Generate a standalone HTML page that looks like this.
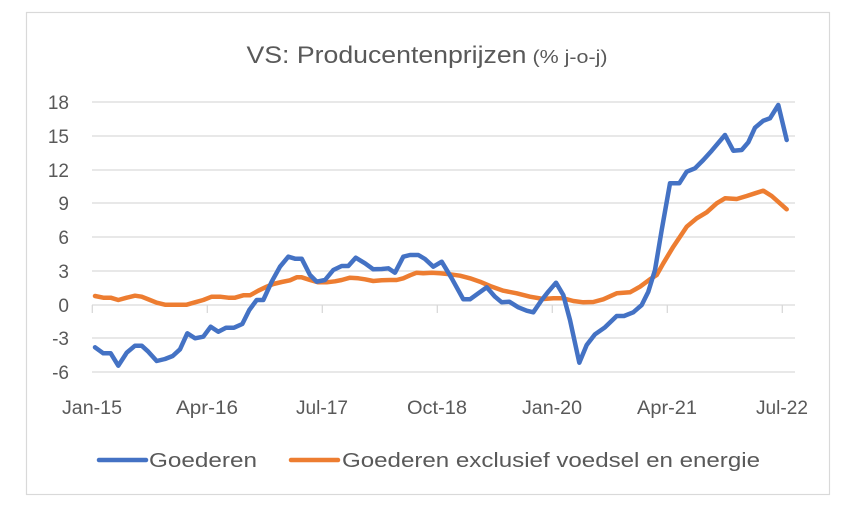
<!DOCTYPE html>
<html><head><meta charset="utf-8"><style>
html,body{margin:0;padding:0;background:#fff;}
svg{display:block;}
text{font-family:"Liberation Sans",sans-serif;fill:#595959;}
</style></head><body>
<svg width="858" height="512" viewBox="0 0 858 512">
<rect x="26.5" y="12.5" width="803" height="482" fill="#fff" stroke="#d9d9d9" stroke-width="1.2"/>
<text x="427" y="63" text-anchor="middle" font-size="24"><tspan textLength="280" lengthAdjust="spacingAndGlyphs">VS: Producentenprijzen</tspan><tspan font-size="18" dx="6" textLength="75" lengthAdjust="spacingAndGlyphs">(% j-o-j)</tspan></text>
<g stroke="#d9d9d9" stroke-width="1.3">
<line x1="92" x2="795" y1="102" y2="102"/>
<line x1="92" x2="795" y1="136" y2="136"/>
<line x1="92" x2="795" y1="170" y2="170"/>
<line x1="92" x2="795" y1="203" y2="203"/>
<line x1="92" x2="795" y1="237" y2="237"/>
<line x1="92" x2="795" y1="271" y2="271"/>
<line x1="92" x2="795" y1="338" y2="338"/>
<line x1="92" x2="795" y1="372" y2="372"/>
<line x1="92" x2="795" y1="305" y2="305"/>
<line x1="92.3" x2="92.3" y1="305" y2="313"/>
<line x1="207.3" x2="207.3" y1="305" y2="313"/>
<line x1="322.3" x2="322.3" y1="305" y2="313"/>
<line x1="437.3" x2="437.3" y1="305" y2="313"/>
<line x1="552.3" x2="552.3" y1="305" y2="313"/>
<line x1="667.3" x2="667.3" y1="305" y2="313"/>
<line x1="782.3" x2="782.3" y1="305" y2="313"/>
</g>
<g font-size="19" text-anchor="end">
<text x="69" y="109">18</text><text x="69" y="143">15</text><text x="69" y="177">12</text>
<text x="69" y="210">9</text><text x="69" y="244">6</text><text x="69" y="278">3</text>
<text x="69" y="312">0</text><text x="69" y="345">-3</text><text x="69" y="379">-6</text>
</g>
<g font-size="19" text-anchor="middle">
<text x="92" y="414" textLength="60" lengthAdjust="spacingAndGlyphs">Jan-15</text><text x="207" y="414" textLength="62" lengthAdjust="spacingAndGlyphs">Apr-16</text><text x="322" y="414" textLength="52" lengthAdjust="spacingAndGlyphs">Jul-17</text>
<text x="437" y="414" textLength="60" lengthAdjust="spacingAndGlyphs">Oct-18</text><text x="552" y="414" textLength="60" lengthAdjust="spacingAndGlyphs">Jan-20</text><text x="667" y="414" textLength="60" lengthAdjust="spacingAndGlyphs">Apr-21</text><text x="782" y="414" textLength="52" lengthAdjust="spacingAndGlyphs">Jul-22</text>
</g>
<polyline fill="none" stroke="#ED7D31" stroke-width="4.5" stroke-linejoin="round" stroke-linecap="round" points="95,296 103.3,297.7 110.7,297.7 118.3,300 126.7,297.7 135,295.7 141.7,296.7 150,300 156.7,302.7 165,304.7 173.3,304.7 180,304.7 186.7,304.7 195,302.3 203.3,300 211.7,296.7 220,296.7 228.3,297.7 235,297.7 243.3,295.3 250,295.3 258.3,290.7 266.7,286.7 273.3,284 281.7,282 290,280.3 296.7,277.3 301.7,277.3 310,280 318.3,282.3 326.7,282.3 335,281.3 341.7,280 350,277.7 358.3,278.3 365,279.3 373.3,281 381.7,280.3 390,280 396.7,280 403.3,278.3 410,275.3 416.7,272.7 423.3,273.3 431.7,272.7 440,273.3 450,274.3 460,275.7 470,278.3 480,281.7 490,286 503.3,290.7 516.7,293.3 530,296.7 543.3,299 553.3,298.3 563.3,298.3 573.3,301 583.3,302.3 593.3,302 603.3,299.3 616.7,293.3 630,292.3 640,286.7 650,279.3 656.7,275 663.3,263.3 673.3,246.7 686.7,226.7 696.7,218.3 706.7,212.3 716.7,203.3 725,198.3 736.7,199 746.7,196 755,193.3 763.3,190.7 771.7,196 786.7,209.3"/>
<polyline fill="none" stroke="#4472C4" stroke-width="4.5" stroke-linejoin="round" stroke-linecap="round" points="95,347.3 103.3,353.3 110.7,353.3 118.3,365.7 126.7,352.7 135,345.7 141.7,345.7 148.3,351.7 156.7,361 165,359 172.7,356 180,349.3 187.3,333.3 195,338.3 203.3,336.7 210.7,326.7 218.3,331.7 226,327.7 234,327.7 242.3,324 249.3,310 256.7,300 263.3,300 271.7,281.7 280,266.7 288.3,256.7 295,258.7 301.7,258.7 310,275 316.7,281.7 325,280 333.3,270 341.7,266 348.3,266 355.7,257.7 365,263.3 373.3,269.3 381.7,269 388.3,268.3 395,272.7 403.3,256.7 410,255 418.3,255 425,259 433.3,266.7 441.7,261.7 451.7,278.3 463.3,299.3 470,299.3 478.3,293.3 486.7,287.3 495,296.7 501.7,302.3 509.3,301.7 518.3,307.3 526.7,310.7 533.3,312.3 541.7,300 548.3,291.7 556,282.7 563.3,295 570,320 579.3,362.7 586.7,345 595,334.3 605,327.3 616.7,316 624,316 633.3,312.3 641.7,305 648.3,291.7 655,270 661.7,230 670,183.3 679.3,183.3 686.7,171.7 695,168.3 703.3,160 711.7,150.7 725,135 733.3,150.7 741.7,150 748.3,142.3 755,127.7 763.3,120.7 770,118.3 778.3,105 786.7,140"/>
<line x1="99" x2="146" y1="460" y2="460" stroke="#4472C4" stroke-width="4.5" stroke-linecap="round"/>
<text x="149" y="467" font-size="20" textLength="108" lengthAdjust="spacingAndGlyphs">Goederen</text>
<line x1="291" x2="338" y1="460" y2="460" stroke="#ED7D31" stroke-width="4.5" stroke-linecap="round"/>
<text x="342" y="467" font-size="20" textLength="418" lengthAdjust="spacingAndGlyphs">Goederen exclusief voedsel en energie</text>
</svg>
</body></html>
